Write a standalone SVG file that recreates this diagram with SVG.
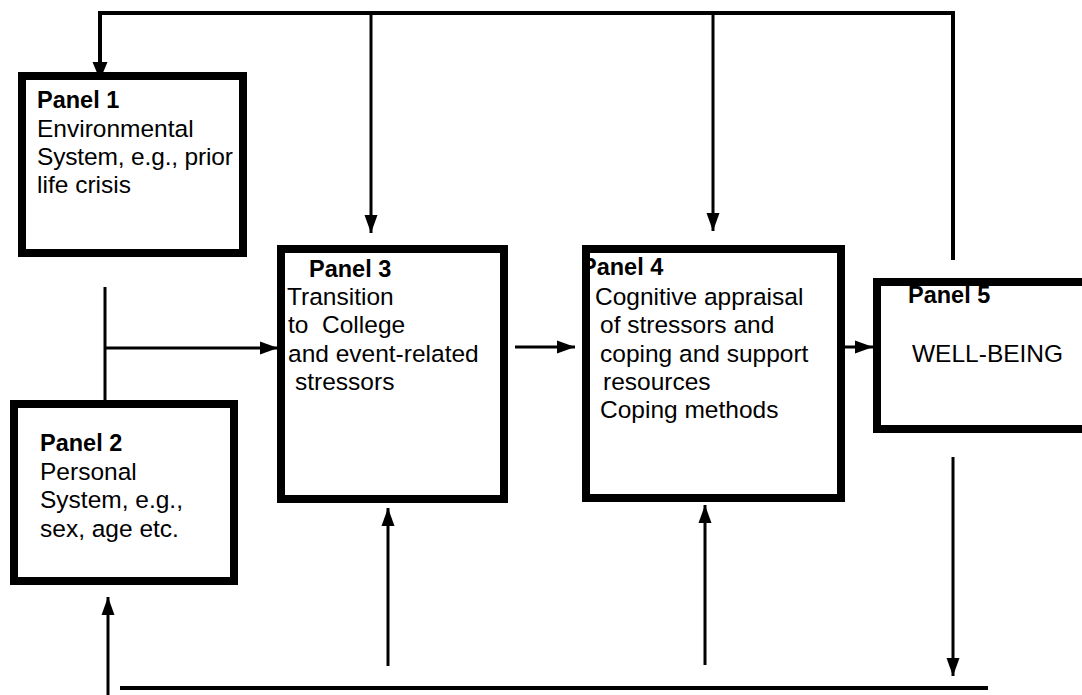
<svg xmlns="http://www.w3.org/2000/svg" width="1082" height="695" viewBox="0 0 1082 695">
<style>
.box{fill:none;stroke:#000;stroke-width:8}
.t{font-family:"Liberation Sans",Arial,sans-serif;font-size:24.5px;fill:#000}
.b{font-weight:bold;font-size:23.5px}
.c{fill:none;stroke:#000;stroke-width:3}
.thick{stroke-width:4}
</style>
<defs>
<marker id="ah" markerUnits="userSpaceOnUse" markerWidth="20" markerHeight="14" refX="18" refY="7" orient="auto" viewBox="0 0 20 14">
<path d="M0,0.5 L18,7 L0,13.5 z" fill="#000"/>
</marker>
<marker id="ahL" markerUnits="userSpaceOnUse" markerWidth="20" markerHeight="16" refX="18" refY="8" orient="auto" viewBox="0 0 20 16">
<path d="M0,0.5 L18,8 L0,15.5 z" fill="#000"/>
</marker>
</defs>
<rect width="1082" height="695" fill="#fff"/>
<g id="connectors">
<path class="c thick" d="M953,260 V13 H100 V80" marker-end="url(#ahL)"/>
<path class="c" d="M371,13 V233" marker-end="url(#ah)"/>
<path class="c" d="M713,13 V231" marker-end="url(#ah)"/>
<path class="c" d="M105,287 V401"/>
<path class="c" d="M105,348 H278" marker-end="url(#ah)"/>
<path class="c" d="M515,347 H575" marker-end="url(#ah)"/>
<path class="c" d="M845,347 H873" marker-end="url(#ah)"/>
<path class="c" d="M953,457 V676" marker-end="url(#ah)"/>
<path class="c thick" d="M120,688 H988"/>
<path class="c" d="M108,695 V597" marker-end="url(#ah)"/>
<path class="c" d="M388,666 V508" marker-end="url(#ah)"/>
<path class="c" d="M705,665 V505" marker-end="url(#ah)"/>
</g>
<g id="panel1">
<rect class="box" x="22" y="76" width="221" height="177" fill="#fff"/>
<text class="t b" x="37" y="108">Panel 1</text>
<text class="t" x="37" y="137">Environmental</text>
<text class="t" x="37" y="165" textLength="196">System, e.g., prior</text>
<text class="t" x="37" y="193">life crisis</text>
</g>
<g id="panel2">
<rect class="box" x="14" y="404" width="220" height="177" fill="#fff"/>
<text class="t b" x="40" y="451">Panel 2</text>
<text class="t" x="40" y="480">Personal</text>
<text class="t" x="40" y="508">System, e.g.,</text>
<text class="t" x="40" y="537">sex, age etc.</text>
</g>
<g id="panel3">
<rect class="box" x="281" y="249" width="223" height="250" fill="#fff"/>
<text class="t b" x="309" y="277">Panel 3</text>
<text class="t" x="287" y="305">Transition</text>
<text class="t" x="288" y="333">to&#160; College</text>
<text class="t" x="288" y="362">and event-related</text>
<text class="t" x="295" y="390">stressors</text>
</g>
<g id="panel4">
<rect x="586" y="249" width="255" height="249" fill="#fff"/>
<text class="t b" x="581" y="275">Panel 4</text>
<text class="t" x="595" y="305">Cognitive appraisal</text>
<text class="t" x="600" y="333">of stressors and</text>
<text class="t" x="600" y="362">coping and support</text>
<text class="t" x="603" y="390">resources</text>
<text class="t" x="600" y="418">Coping methods</text>
<rect class="box" x="586" y="249" width="255" height="249"/>
</g>
<g id="panel5">
<rect x="877" y="282" width="220" height="147" fill="#fff"/>
<text class="t b" x="908" y="303">Panel 5</text>
<text class="t" x="912" y="362">WELL-BEING</text>
<rect class="box" x="877" y="282" width="220" height="147"/>
</g>
</svg>
